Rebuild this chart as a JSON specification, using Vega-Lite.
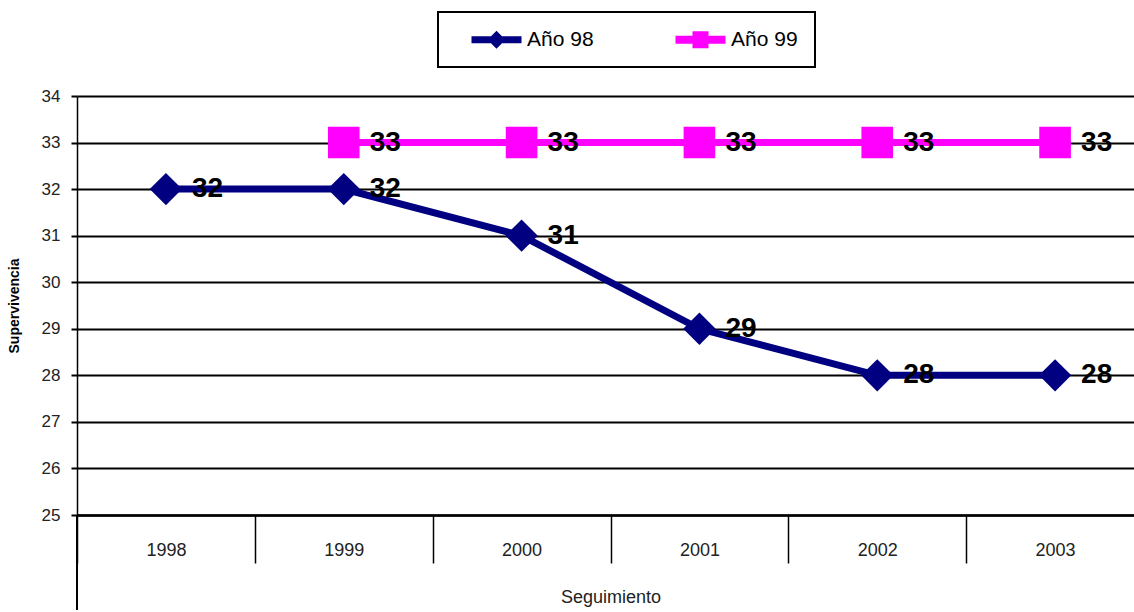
{
  "$schema": "https://vega.github.io/schema/vega-lite/v6.json",
  "width": 1057,
  "height": 419,
  "autosize": {"type": "none"},
  "padding": {"left": 77, "top": 96, "right": 0, "bottom": 97},
  "background": "white",
  "config": {"view": {"stroke": null}, "font": "Liberation Sans"},
  "data": {
    "values": [
      {"year": "1998", "serie": "Año 98", "value": 32},
      {"year": "1999", "serie": "Año 98", "value": 32},
      {"year": "2000", "serie": "Año 98", "value": 31},
      {"year": "2001", "serie": "Año 98", "value": 29},
      {"year": "2002", "serie": "Año 98", "value": 28},
      {"year": "2003", "serie": "Año 98", "value": 28},
      {"year": "1999", "serie": "Año 99", "value": 33},
      {"year": "2000", "serie": "Año 99", "value": 33},
      {"year": "2001", "serie": "Año 99", "value": 33},
      {"year": "2002", "serie": "Año 99", "value": 33},
      {"year": "2003", "serie": "Año 99", "value": 33}
    ]
  },
  "encoding": {
    "x": {
      "field": "year",
      "type": "ordinal",
      "scale": {"type": "band", "domain": ["1998", "1999", "2000", "2001", "2002", "2003"], "paddingInner": 0, "paddingOuter": 0, "range": [0, 1067]},
      "axis": {
        "title": "Seguimiento",
        "labelAngle": 0,
        "tickBand": "extent",
        "ticks": true,
        "tickSize": 48,
        "tickColor": "black",
        "tickWidth": 1.5,
        "domain": true,
        "domainColor": "black",
        "domainWidth": 2.5,
        "grid": false,
        "labelPadding": -22,
        "labelFontSize": 18,
        "labelColor": "#222",
        "titleFontSize": 18,
        "titleFontWeight": "normal",
        "titleColor": "#222",
        "titleY": 82,
        "titleBaseline": "middle"
      }
    },
    "y": {
      "field": "value",
      "type": "quantitative",
      "scale": {"domain": [25, 34], "nice": false, "zero": false, "clamp": false},
      "axis": {
        "values": [25, 26, 27, 28, 29, 30, 31, 32, 33, 34],
        "title": "Supervivencia",
        "grid": true,
        "gridColor": "black",
        "gridWidth": 2,
        "gridOpacity": 1,
        "domain": true,
        "domainColor": "black",
        "domainWidth": 1.5,
        "ticks": true,
        "tickSize": 6,
        "tickColor": "black",
        "tickWidth": 2,
        "labelFontSize": 17,
        "labelColor": "#222",
        "labelPadding": 11,
        "titleFontSize": 14,
        "titleFontWeight": "bold",
        "titleColor": "black",
        "titleX": -63,
        "titleY": 209.5,
        "titleAngle": -90,
        "titleAlign": "center",
        "titleBaseline": "middle"
      }
    },
    "color": {
      "field": "serie",
      "type": "nominal",
      "scale": {"domain": ["Año 98", "Año 99"], "range": ["#000080", "#FF00FF"]},
      "legend": {
        "title": null,
        "orient": "none",
        "legendX": 361,
        "legendY": -84,
        "direction": "horizontal",
        "strokeColor": "black",
        "fillColor": "white",
        "padding": 17,
        "symbolSize": 400,
        "symbolStrokeWidth": 0,
        "labelFontSize": 21,
        "labelFont": "Liberation Sans",
        "labelColor": "black",
        "labelOffset": 51,
        "columnPadding": 65,
        "encode": {
          "legend": {"update": {"strokeWidth": {"value": 2}}},
          "symbols": {
            "update": {
              "shape": {"signal": "datum.value === 'Año 98' ? 'M0.6,-0.35H5.6V0.35H0.6Z M3.1,-0.9L4.0,0L3.1,0.9L2.2,0Z' : 'M0.6,-0.4H5.6V0.4H0.6Z M2.3,-0.85H3.9V0.85H2.3Z'"},
              "fill": {"scale": "color", "field": "value"},
              "stroke": {"value": "transparent"},
              "strokeWidth": {"value": 0},
              "opacity": {"value": 1}
            }
          }
        }
      }
    }
  },
  "layer": [
    {
      "mark": {"type": "rule", "strokeWidth": 1.5, "color": "black"},
      "encoding": {
        "x": {"datum": "1998", "type": "ordinal", "bandPosition": 0},
        "y": {"datum": 25, "type": "quantitative"},
        "y2": {"datum": 22.96},
        "color": {"value": "black"}
      }
    },
    {"mark": {"type": "line", "strokeWidth": 7}},
    {
      "transform": [{"filter": "datum.serie === 'Año 98'"}],
      "mark": {"type": "point", "shape": "diamond", "filled": true, "opacity": 1, "size": 1050, "strokeWidth": 0}
    },
    {
      "transform": [{"filter": "datum.serie === 'Año 99'"}],
      "mark": {"type": "point", "shape": "square", "filled": true, "opacity": 1, "size": 1000, "strokeWidth": 0}
    },
    {
      "mark": {"type": "text", "align": "left", "baseline": "middle", "dx": 26, "fontSize": 28, "fontWeight": "bold", "font": "Liberation Sans"},
      "encoding": {
        "text": {"field": "value", "type": "quantitative"},
        "color": {"value": "black"}
      }
    }
  ]
}
